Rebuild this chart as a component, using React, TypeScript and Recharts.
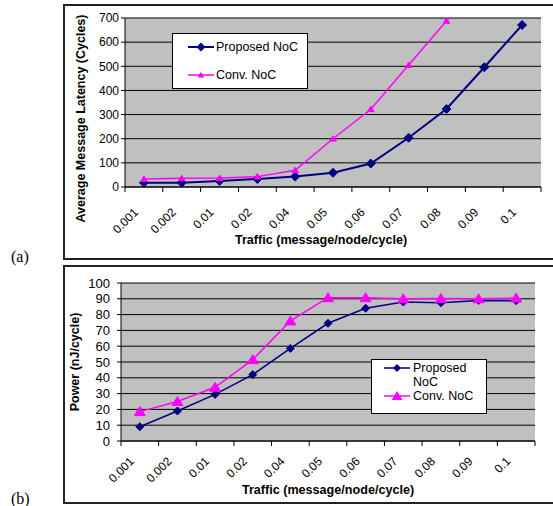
import React from "react";
import { CartesianGrid, Label, Legend, Line, LineChart, XAxis, YAxis } from "recharts";

// traffic categories (x axis)
const categories = ["0.001", "0.002", "0.01", "0.02", "0.04", "0.05", "0.06", "0.07", "0.08", "0.09", "0.1"];

// (a) average message latency, cycles
const latencyProposed = [18, 18, 25, 33, 43, 59, 97, 204, 323, 496, 671];
const latencyConv = [33, 36, 37, 43, 69, 200, 322, 505, 688, 880, 1080];
const latencyTicks = [0, 100, 200, 300, 400, 500, 600, 700];

// (b) power, nJ/cycle
const powerProposed = [9, 19, 29.5, 42, 58.6, 74.5, 84, 88, 87.5, 89, 88.8];
const powerConv = [18.6, 25, 34, 51.5, 76, 90.7, 90.7, 90, 90.2, 90, 90.5];
const powerTicks = [0, 10, 20, 30, 40, 50, 60, 70, 80, 90, 100];

const NAVY = "#000080";
const MAGENTA = "#FF00FF";
const FONT = '"Liberation Sans", Arial, sans-serif';

const latencyData = categories.map((c, i) => ({ traffic: c, proposed: latencyProposed[i], conv: latencyConv[i] }));
const powerData = categories.map((c, i) => ({ traffic: c, proposed: powerProposed[i], conv: powerConv[i] }));

const diamondPts = (cx: number, cy: number, r: number) => `${cx},${cy - r} ${cx + r},${cy} ${cx},${cy + r} ${cx - r},${cy}`;
const trianglePts = (cx: number, cy: number, r: number) =>
  `${cx},${cy - r} ${cx + r * 1.1},${cy + r * 0.8} ${cx - r * 1.1},${cy + r * 0.8}`;

const diamondDot = (r: number) => (props: any) => {
  const { cx, cy, index } = props;
  if (cx == null || cy == null) return <g key={`d-${index}`} />;
  return <polygon key={`d-${index}`} points={diamondPts(cx, cy, r)} fill={NAVY} stroke={NAVY} />;
};

const triangleDot = (r: number) => (props: any) => {
  const { cx, cy, index } = props;
  if (cx == null || cy == null) return <g key={`t-${index}`} />;
  return <polygon key={`t-${index}`} points={trianglePts(cx, cy, r)} fill={MAGENTA} stroke={MAGENTA} />;
};

// category ticks: marks on band edges, rotated labels at band centre
const makeTick = (step: number, fontSize: number, dx: number, dy: number) => (props: any) => {
  const { x, y, payload, index } = props;
  const left = x - step / 2;
  const tx = x + dx;
  const ty = y + dy;
  return (
    <g>
      <line x1={left} y1={y} x2={left} y2={y + 5} stroke="#000" />
      {index === categories.length - 1 && <line x1={left + step} y1={y} x2={left + step} y2={y + 5} stroke="#000" />}
      <text x={tx} y={ty} transform={`rotate(-45 ${tx} ${ty})`} textAnchor="end" fontSize={fontSize} fontFamily={FONT} fill="#000">
        {payload.value}
      </text>
    </g>
  );
};

const yTitle = (text: string, dx: number, dy: number) => (props: any) => {
  const vb = props.viewBox;
  const x = vb.x + dx;
  const y = vb.y + vb.height / 2 + dy;
  return (
    <text x={x} y={y} transform={`rotate(-90 ${x} ${y})`} textAnchor="middle" dominantBaseline="central" fontSize={12.5} fontWeight="bold" fontFamily={FONT} fill="#000">
      {text}
    </text>
  );
};

const xTitle = (text: string, dx: number, dy: number) => (props: any) => {
  const vb = props.viewBox;
  return (
    <text x={vb.x + vb.width / 2 + dx} y={vb.y + dy} textAnchor="middle" dominantBaseline="central" fontSize={12.6} fontWeight="bold" fontFamily={FONT} fill="#000">
      {text}
    </text>
  );
};

const TopLegend = () => (
  <div style={{ width: 136, height: 56, boxSizing: "border-box", border: "1px solid #000", background: "#fff" }}>
    <svg width={134} height={54} style={{ display: "block" }}>
      <line x1={15} y1={13} x2={41} y2={13} stroke={NAVY} strokeWidth={2} />
      <polygon points={diamondPts(28, 13, 4.5)} fill={NAVY} />
      <text x={43} y={13} dominantBaseline="central" fontSize={12.5} fontFamily={FONT}>Proposed NoC</text>
      <line x1={15} y1={41} x2={41} y2={41} stroke={MAGENTA} strokeWidth={1.5} />
      <polygon points={trianglePts(28, 41, 3)} fill={MAGENTA} />
      <text x={43} y={41} dominantBaseline="central" fontSize={12.5} fontFamily={FONT}>Conv. NoC</text>
    </svg>
  </div>
);

const BottomLegend = () => (
  <div style={{ width: 116, height: 55, boxSizing: "border-box", border: "1px solid #000", background: "#fff" }}>
    <svg width={114} height={53} style={{ display: "block" }}>
      <line x1={12} y1={8} x2={38} y2={8} stroke={NAVY} strokeWidth={1.5} />
      <polygon points={diamondPts(25, 8, 4)} fill={NAVY} />
      <text x={41} y={8} dominantBaseline="central" fontSize={12.5} fontFamily={FONT}>Proposed</text>
      <text x={41} y={22} dominantBaseline="central" fontSize={12.5} fontFamily={FONT}>NoC</text>
      <line x1={12} y1={36} x2={38} y2={36} stroke={MAGENTA} strokeWidth={1.5} />
      <polygon points={trianglePts(25, 36, 5)} fill={MAGENTA} />
      <text x={41} y={36} dominantBaseline="central" fontSize={12.5} fontFamily={FONT}>Conv. NoC</text>
    </svg>
  </div>
);

const TOP_STEP = (553 - 125 - 12) / categories.length;
const BOTTOM_STEP = (553 - 121 - 18) / categories.length;

export default function App() {
  return (
    <div style={{ position: "absolute", left: 0, top: 0, width: 553, height: 506, overflow: "hidden", background: "#fff", fontFamily: FONT }}>
      {/* frames */}
      <div style={{ position: "absolute", left: 63, top: 4, width: 520, height: 252, border: "2px solid #222" }} />
      <div style={{ position: "absolute", left: 63, top: 265, width: 520, height: 235, border: "2px solid #222" }} />
      <div style={{ position: "absolute", left: 11, top: 248, fontFamily: '"Liberation Serif", serif', fontSize: 16 }}>(a)</div>
      <div style={{ position: "absolute", left: 11, top: 490, fontFamily: '"Liberation Serif", serif', fontSize: 16 }}>(b)</div>

      <div style={{ position: "absolute", left: 0, top: 0 }}>
        <LineChart width={553} height={258} data={latencyData} margin={{ top: 18, right: 12, left: 65, bottom: 21 }}>
          <CartesianGrid vertical={false} fill="#C0C0C0" fillOpacity={1} stroke="#000" horizontalValues={latencyTicks} />
          <XAxis dataKey="traffic" interval={0} padding={{ left: TOP_STEP / 2, right: TOP_STEP / 2 }} tickLine={false} tickSize={0} tickMargin={0} height={50} axisLine={{ stroke: "#000" }} tick={makeTick(TOP_STEP, 12, -5, 26)}>
            <Label content={xTitle("Traffic (message/node/cycle)", -12, 53)} />
          </XAxis>
          <YAxis width={60} domain={[0, 700]} ticks={latencyTicks} interval={0} allowDataOverflow tickSize={4} tickMargin={2} axisLine={{ stroke: "#000" }} tickLine={{ stroke: "#000" }} tick={{ fill: "#000", fontSize: 12, fontFamily: FONT }}>
            <Label content={yTitle("Average Message Latency (Cycles)", 16, 16)} />
          </YAxis>
          <Legend layout="horizontal" verticalAlign="middle" align="center" content={() => <TopLegend />} wrapperStyle={{ left: 172, top: 33, width: 136, height: 56 }} />
          <Line dataKey="proposed" stroke={NAVY} strokeWidth={2} dot={diamondDot(4.5)} isAnimationActive={false} />
          <Line dataKey="conv" stroke={MAGENTA} strokeWidth={1.5} dot={triangleDot(3)} isAnimationActive={false} />
        </LineChart>
      </div>

      <div style={{ position: "absolute", left: 0, top: 255 }}>
        <LineChart width={553} height={251} data={powerData} margin={{ top: 28, right: 18, left: 61, bottom: 15 }}>
          <CartesianGrid vertical={false} fill="#C0C0C0" fillOpacity={1} stroke="#000" horizontalValues={powerTicks} />
          <XAxis dataKey="traffic" interval={0} padding={{ left: BOTTOM_STEP / 2, right: BOTTOM_STEP / 2 }} tickLine={false} tickSize={0} tickMargin={0} height={50} axisLine={{ stroke: "#000" }} tick={makeTick(BOTTOM_STEP, 12, -5, 21)}>
            <Label content={xTitle("Traffic (message/node/cycle)", 0, 49)} />
          </XAxis>
          <YAxis width={60} domain={[0, 100]} ticks={powerTicks} interval={0} allowDataOverflow tickSize={4} tickMargin={7} axisLine={{ stroke: "#000" }} tickLine={{ stroke: "#000" }} tick={{ fill: "#000", fontSize: 13, fontFamily: FONT }}>
            <Label content={yTitle("Power (nJ/cycle)", 14, 0)} />
          </YAxis>
          <Legend layout="horizontal" verticalAlign="middle" align="center" content={() => <BottomLegend />} wrapperStyle={{ left: 371, top: 104, width: 116, height: 55 }} />
          <Line dataKey="proposed" stroke={NAVY} strokeWidth={1.5} dot={diamondDot(4)} isAnimationActive={false} />
          <Line dataKey="conv" stroke={MAGENTA} strokeWidth={1.5} dot={triangleDot(5)} isAnimationActive={false} />
        </LineChart>
      </div>
    </div>
  );
}
